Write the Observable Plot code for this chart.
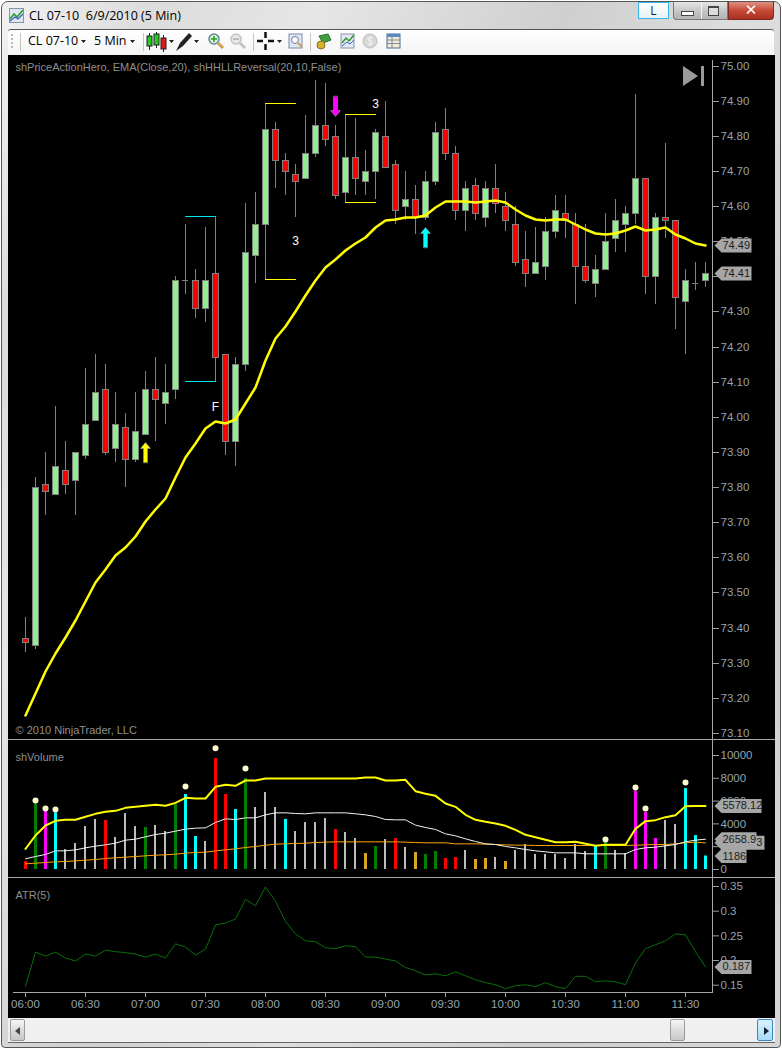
<!DOCTYPE html>
<html>
<head>
<meta charset="utf-8">
<script src="https://cdn.jsdelivr.net/npm/d3@7"></script>
<script src="https://cdn.jsdelivr.net/npm/@observablehq/plot@0.6"></script>
<style>
html,body{margin:0;padding:0;background:#fff;width:782px;height:1050px;overflow:hidden}
#win{position:absolute;left:1px;top:1px;width:780px;height:1047px;border:1px solid #555;border-radius:7px 7px 4px 4px;box-sizing:border-box;
 background:linear-gradient(115deg,#f2f2f2 0%,#dcdcdc 12%,#e6e6e6 25%,#cfcfcf 45%,#dedede 60%,#cdcdcd 80%,#d8d8d8 100%)}
.abs{position:absolute}
#title{left:29px;top:7px;font:12.5px "Open Sans",sans-serif;color:#000;white-space:pre}
#toolbar{left:8px;top:29px;width:766px;height:26px;background:linear-gradient(#ffffff,#f4f4f4);border-top:1px solid #555;box-sizing:border-box;border-radius:3px 3px 0 0}
.tb{position:absolute;top:32px;font:12.5px "Open Sans",sans-serif;color:#000;white-space:pre}
#black{left:8px;top:55px;width:767px;height:963px;background:#000}
.panel{position:absolute;left:8px;width:767px}
.panel svg{display:block}
.sep{position:absolute;left:8px;width:767px;height:1px;background:#a8a8a8}
#scroll{left:8px;top:1018px;width:767px;height:24px;background:#f0f0f0;border-bottom:1px solid #666;box-sizing:content-box}
.btn{position:absolute;box-sizing:border-box;border:1px solid #9a9a9a;border-radius:2px;background:linear-gradient(#f6f6f6,#dcdcdc 50%,#c8c8c8)}
</style>
</head>
<body>
<div id="win"></div>
<div class="abs" id="title">CL 07-10  6/9/2010 (5 Min)</div>
<svg class="abs" style="left:9px;top:8px" width="15" height="15"><rect x=".5" y=".5" width="14" height="14" fill="#dfe6f2" stroke="#8a93a8"/><path d="M1 11L5 6 8 9 14 2" fill="none" stroke="#2f9a2f" stroke-width="1.6"/><path d="M1 13L6 9 9 11 14 6" fill="none" stroke="#3a5fc0" stroke-width="1.2"/></svg>
<!-- window buttons -->
<div class="abs" style="left:638px;top:2px;width:31px;height:17px;border:1px solid #35b5e8;box-sizing:border-box;background:linear-gradient(#fff,#e9f2f8);font:12px 'Open Sans',sans-serif;color:#123;text-align:center;line-height:15px">L</div>
<div class="abs" style="left:673px;top:2px;width:55px;height:18px;border:1px solid #777;border-top:none;box-sizing:border-box;border-radius:0 0 0 4px;background:linear-gradient(#e6e6e6,#c4c4c4 55%,#b4b4b4)"></div>
<div class="abs" style="left:701px;top:2px;width:1px;height:17px;background:#f2f2f2"></div>
<div class="abs" style="left:681px;top:11px;width:11px;height:3px;border:1px solid #444;background:#fff;box-sizing:content-box"></div>
<div class="abs" style="left:708px;top:6px;width:9px;height:7px;border:1px solid #444;border-top-width:2px;background:#ddd"></div>
<div class="abs" style="left:728px;top:2px;width:46px;height:18px;border:1px solid #7a2a20;border-top:none;box-sizing:border-box;border-radius:0 0 4px 0;background:linear-gradient(#e09080,#c84a38 50%,#a83020);color:#fff;font:bold 15px 'DejaVu Sans',sans-serif;text-align:center;line-height:16px">✕</div>

<div class="abs" id="toolbar"></div>
<div class="tb" style="left:28px">CL 07-10</div>
<div class="tb" style="left:94px">5 Min</div>
<svg class="abs" style="left:8px;top:30px" width="400" height="25">
 <g fill="#b8b8b8"><rect x="3" y="4" width="2" height="2"/><rect x="3" y="8" width="2" height="2"/><rect x="3" y="12" width="2" height="2"/><rect x="3" y="16" width="2" height="2"/></g>
 <g stroke="#c4c4c4"><path d="M12.5 3V21M135.5 3V21M245.5 3V21M302.5 3V21"/></g>
 <g fill="#222"><path d="M73 10h5l-2.5 3zM122 10h5l-2.5 3zM161 10h5l-2.5 3zM186 10h5l-2.5 3zM269 10h5l-2.5 3z"/></g>
 <g stroke="#222"><path d="M141.5 3V20M148.5 2V18M155.5 5V22"/></g>
 <rect x="139" y="6" width="5" height="10" fill="#2bc62b" stroke="#222"/><rect x="146" y="4" width="5" height="11" fill="#2bc62b" stroke="#222"/><rect x="153" y="8" width="5" height="11" fill="#e01818" stroke="#222"/>
 <path d="M168 21L172 13 181 3 184 6 175 16z" fill="#222"/>
 <g fill="none"><circle cx="206" cy="9" r="5" fill="#dff0df" stroke="#5a8a8a" stroke-width="1.5"/><path d="M210 13l5 5" stroke="#d89a50" stroke-width="3"/><path d="M203 9h6M206 6v6" stroke="#20a020" stroke-width="1.5"/></g>
 <g fill="none" stroke="#c2c2c2"><circle cx="228" cy="9" r="5" fill="#e8e8e8" stroke-width="1.5"/><path d="M232 13l5 5" stroke-width="3"/><path d="M225 9h6" stroke="#aaa" stroke-width="1.5"/></g>
 <path d="M249 11h6M260 11h6M257.5 2v6M257.5 14v6" stroke="#111" stroke-width="2.5"/>
 <rect x="281" y="4" width="13" height="14" fill="#dfe8f4" stroke="#7a8aa8"/><circle cx="287" cy="10" r="3.5" fill="#fff" stroke="#6a7a98"/><path d="M290 13l4 4" stroke="#d89a50" stroke-width="2"/>
 <path d="M311 6l9-2 3 6-8 3z" fill="#3fa03f" stroke="#2a6a2a"/><circle cx="313" cy="15" r="4" fill="#d8b030" stroke="#8a7020"/>
 <rect x="333" y="4" width="13" height="14" fill="#e4eaf4" stroke="#8a93a8"/><path d="M334 13l4-5 3 3 5-6" fill="none" stroke="#2f9a2f" stroke-width="1.5"/><path d="M334 16l5-4 3 2 4-4" fill="none" stroke="#3a5fc0"/>
 <circle cx="362" cy="11" r="7" fill="#d6d6d6" stroke="#bcbcbc"/><text x="362" y="15" font-size="10" text-anchor="middle" fill="#f4f4f4" font-family="Liberation Sans">$</text>
 <rect x="379" y="4" width="13" height="14" fill="#f2ead0" stroke="#4a6a9a"/><rect x="379" y="4" width="13" height="3" fill="#5a8ac0"/><path d="M379 10h13M379 13.5h13M384 7v11" stroke="#6a7a98" stroke-width=".8"/>
</svg>
<div class="abs" id="black"></div>
<div class="panel" id="p1" style="top:55px"></div>
<div class="sep" style="top:739px"></div>
<div class="panel" id="p2" style="top:740px"></div>
<div class="sep" style="top:877px"></div>
<div class="panel" id="p3" style="top:878px"></div>
<svg class="abs" style="left:683px;top:66px" width="22" height="21"><path d="M0 0L15 10 0 20z" fill="#9a9a9a"/><rect x="18" y="0" width="3" height="20" fill="#9a9a9a"/></svg>
<div class="abs" id="scroll"></div>
<div class="btn" style="left:10px;top:1019px;width:15px;height:22px"><div style="position:absolute;left:4px;top:7px;border:4px solid transparent;border-right:5px solid #444;border-left:none"></div></div>
<div class="btn" style="left:670px;top:1019px;width:15px;height:22px"></div>
<div class="btn" style="left:757px;top:1019px;width:16px;height:22px;border-color:#3a88c0;background:linear-gradient(#d8f0fc,#a8dcf8)"><div style="position:absolute;left:6px;top:7px;border:4px solid transparent;border-left:5px solid #123;border-right:none"></div></div>

<script>
// ---- Time axis ----
const barIndex = d3.range(69);
const timeTickIndex = [0, 6, 12, 18, 24, 30, 36, 42, 48, 54, 60, 66];
const timeTickLabels = ["06:00","06:30","07:00","07:30","08:00","08:30","09:00","09:30","10:00","10:30","11:00","11:30"];

// ---- Price panel ----
const opens = [73.37,73.35,73.81,73.78,73.85,73.82,73.89,73.99,74.08,73.91,73.97,73.88,73.95,74.08,74.04,74.08,74.39,74.39,74.31,74.41,74.18,73.93,74.15,74.46,74.55,74.82,74.73,74.69,74.68,74.75,74.83,74.80,74.64,74.74,74.67,74.70,74.80,74.72,74.60,74.62,74.57,74.67,74.82,74.75,74.59,74.66,74.57,74.65,74.60,74.55,74.45,74.41,74.43,74.53,74.58,74.55,74.43,74.38,74.42,74.51,74.55,74.58,74.68,74.40,74.57,74.56,74.33,74.38,74.39];
const highs = [73.43,73.83,73.90,74.03,73.93,73.90,74.14,74.18,74.15,74.07,74.01,74.07,74.13,74.17,74.15,74.40,74.55,74.42,74.54,74.57,74.18,74.17,74.61,74.64,74.89,74.84,74.75,74.72,74.86,74.96,74.95,74.83,74.86,74.85,74.76,74.82,74.90,74.73,74.70,74.66,74.70,74.84,74.88,74.77,74.67,74.68,74.67,74.72,74.64,74.60,74.53,74.54,74.57,74.63,74.63,74.58,74.55,74.46,74.58,74.62,74.60,74.92,74.68,74.58,74.78,74.56,74.42,74.44,74.44];
const lows = [73.33,73.34,73.72,73.78,73.78,73.72,73.88,73.99,73.89,73.87,73.80,73.87,73.95,73.93,73.98,74.05,74.35,74.28,74.27,74.10,73.89,73.86,74.13,74.38,74.39,74.65,74.63,74.57,74.68,74.74,74.77,74.62,74.61,74.63,74.63,74.62,74.71,74.55,74.56,74.52,74.56,74.66,74.73,74.56,74.53,74.56,74.54,74.58,74.53,74.43,74.37,74.41,74.39,74.51,74.51,74.32,74.38,74.34,74.42,74.47,74.47,74.55,74.35,74.32,74.51,74.25,74.18,74.36,74.37];
const closes = [73.36,73.80,73.79,73.86,73.81,73.90,73.98,74.07,73.90,73.98,73.88,73.96,74.08,74.05,74.07,74.39,74.39,74.31,74.39,74.17,73.93,74.15,74.47,74.55,74.82,74.73,74.70,74.67,74.75,74.83,74.79,74.63,74.74,74.68,74.70,74.81,74.71,74.59,74.62,74.57,74.67,74.81,74.75,74.59,74.65,74.58,74.65,74.61,74.56,74.44,74.41,74.44,74.53,74.59,74.56,74.43,74.39,74.42,74.50,74.56,74.58,74.68,74.40,74.57,74.56,74.34,74.39,74.38,74.41];
const ema = [73.151,73.214,73.276,73.328,73.373,73.422,73.476,73.530,73.567,73.607,73.629,73.661,73.703,73.738,73.769,73.829,73.886,73.925,73.968,73.988,73.982,73.994,74.039,74.085,74.162,74.224,74.258,74.301,74.347,74.389,74.426,74.449,74.475,74.495,74.512,74.540,74.560,74.563,74.569,74.569,74.574,74.597,74.614,74.614,74.614,74.612,74.615,74.617,74.611,74.592,74.574,74.564,74.561,74.564,74.562,74.549,74.535,74.524,74.521,74.524,74.532,74.544,74.532,74.535,74.539,74.520,74.509,74.495,74.488];
const priceTicks = [75.0,74.9,74.8,74.7,74.6,74.5,74.4,74.3,74.2,74.1,74.0,73.9,73.8,73.7,73.6,73.5,73.4,73.3,73.2,73.1];
const priceBrackets = [
  {kind:"teal", from:16, to:19, price:74.572},
  {kind:"teal", from:16, to:19, price:74.101},
  {kind:"yellow", from:24, to:27, price:74.892},
  {kind:"yellow", from:24, to:27, price:74.391},
  {kind:"yellow", from:32, to:35, price:74.861},
  {kind:"yellow", from:32, to:35, price:74.611}
];
const priceNotes = [{i:27, price:74.50, label:"3"}, {i:35, price:74.89, label:"3"}, {i:19, price:74.029, label:"F"}];
const upArrows = [{i:12, tail:73.872, kind:"yellow"}, {i:40, tail:74.484, kind:"cyan"}];
const downArrows = [{i:31, tail:74.913, kind:"magenta"}];

// ---- Volume panel ----
const volumes = [700,5760,5150,4970,1750,2280,3770,4390,4300,2810,4910,3770,3680,3860,3330,5700,6580,2890,2460,9740,6580,5260,7980,5440,6750,5440,4390,3330,4120,4120,4470,3510,3250,2720,1400,2020,2630,2720,1930,1490,1320,1580,965,1050,1670,880,965,1050,700,1670,2190,1320,1320,1320,965,2190,1580,2020,2370,1670,1400,6870,5000,2720,4300,3950,7100,2980,1186];
const volumeKinds = ["red","green","magenta","cyan","gray","gray","gray","gray","red","gray","gray","gray","green","gray","gray","green","cyan","cyan","gray","red","red","cyan","green","gray","gray","gray","cyan","gray","gray","gray","gray","red","gray","gray","gold","green","gray","red","gray","gold","green","green","red","red","gray","gold","gold","gray","gold","gray","gray","gray","gray","gray","gray","gray","gray","cyan","green","gray","gray","magenta","magenta","magenta","gray","gray","cyan","cyan","cyan"];
const volumeUpper = [1813,2982,3860,4269,4357,4357,4620,4883,5059,5146,5409,5497,5585,5673,5585,5848,6287,6228,6228,7252,7427,7339,7807,7807,7983,7983,7983,7983,7983,7983,7983,7983,7983,7983,8070,8070,7807,7807,7866,6871,6637,6462,5790,5497,4795,4357,4181,4035,3830,3480,3041,2836,2602,2398,2398,2427,2251,2076,2164,2164,2164,3567,4240,4328,4591,4766,5556,5578,5578];
const volumeMid = [936,1140,1316,1637,1637,1725,1901,2047,2164,2310,2573,2661,2866,3070,3187,3363,3538,3626,3655,4123,4444,4386,4532,4532,4795,4971,4971,4912,4883,4971,4971,4971,4971,4883,4795,4649,4386,4357,4357,3889,3684,3509,3129,2953,2690,2456,2251,2193,2018,1901,1754,1637,1550,1462,1462,1462,1374,1374,1374,1374,1374,1754,1901,1959,2076,2193,2427,2573,2659];
const volumeLong = [497,556,614,673,702,760,819,877,965,1023,1082,1140,1199,1257,1287,1345,1433,1491,1520,1637,1725,1813,1930,2018,2135,2222,2251,2281,2310,2368,2398,2427,2427,2427,2427,2427,2427,2427,2398,2368,2339,2339,2339,2251,2251,2251,2222,2193,2164,2135,2135,2105,2105,2105,2105,2105,2105,2105,2105,2105,2105,2135,2164,2193,2193,2251,2339,2398,2333];
const volumeSpikes = [{i:1,v:6050},{i:2,v:5350},{i:3,v:5260},{i:16,v:7280},{i:19,v:10640},{i:22,v:8860},{i:58,v:2630},{i:61,v:7190},{i:62,v:5350},{i:66,v:7630}];
const volumeTicks = [0,2000,4000,6000,8000,10000];

// ---- ATR panel ----
const atr = [.148,.217,.209,.217,.205,.199,.213,.209,.221,.218,.216,.213,.207,.213,.205,.234,.227,.211,.223,.272,.276,.284,.324,.311,.349,.320,.279,.254,.240,.238,.226,.224,.230,.228,.207,.207,.203,.199,.186,.179,.171,.173,.169,.177,.169,.161,.155,.151,.143,.149,.151,.147,.155,.147,.143,.168,.168,.157,.159,.157,.151,.195,.224,.232,.240,.254,.252,.218,.187];
const atrTicks = [.15,.2,.25,.3,.35];

// ---- Shared style ----
const FONT = '"Liberation Sans", Arial, sans-serif';
const TICK = "#97a3ad";
const LABEL = "#8f8f8f";
const W = 767, MR = 63, ML = 5;
const PALETTE = {red:"#ff0000",green:"#008000",magenta:"#ff00ff",cyan:"#00ffff",teal:"#00e8f0",gray:"#bcbcbc",gold:"#daa520",yellow:"#ffff00"};
const xScale = {type:"band", domain:barIndex, range:[12,702], paddingInner:0.4, paddingOuter:0.2, round:false, axis:null};
const base = {width:W, marginLeft:ML, marginRight:MR, style:{background:"transparent",color:TICK,fontFamily:FONT,fontSize:"11px",overflow:"visible"}};

const tagShape = {draw(c,l){c.moveTo(0,0);c.lineTo(7,-7);c.lineTo(l,-7);c.lineTo(l,7);c.lineTo(7,7);c.closePath();}};
const arrowShape = {draw(c,l){c.moveTo(-2,0);c.lineTo(-2,-l+6);c.lineTo(-5,-l+6);c.lineTo(0,-l);c.lineTo(5,-l+6);c.lineTo(2,-l+6);c.lineTo(2,0);c.closePath();}};

function tag(value, label, len){
  return [
    Plot.vector([value],{y:d=>d,frameAnchor:"right",anchor:"start",rotate:0,length:len,shape:tagShape,fill:"#a6a6a6",stroke:"none",dx:2}),
    Plot.text([value],{y:d=>d,text:()=>label,frameAnchor:"right",textAnchor:"start",dx:10,fill:"#1c1c1c",fontSize:11})
  ];
}
function title(label, dy){
  return Plot.text([label],{text:d=>d,frameAnchor:"top-left",lineAnchor:"middle",textAnchor:"start",dx:2,dy,fill:LABEL,fontSize:11});
}
function yAxis(ticks, fmt){
  return Plot.axisY({anchor:"right",ticks,tickFormat:fmt,tickSize:6,tickPadding:2,fill:TICK,stroke:"#9c9c9c",fontSize:11.5,textAnchor:"start"});
}

const candles = barIndex.map(i=>({i,o:opens[i],h:highs[i],l:lows[i],c:closes[i],e:ema[i],dir:closes[i]>opens[i]?"up":"down"}));

// ---- Price ----
document.getElementById("p1").append(Plot.plot({...base,height:684,marginTop:5,marginBottom:0,
  x:xScale,
  y:{domain:[73.1,75],range:[678,10.5],round:true,axis:null},
  color:{type:"ordinal",domain:["up","down"],range:["#90ee90","#ff0000"]},
  marks:[
    Plot.frame({anchor:"right",stroke:"#a8a8a8"}),
    yAxis(priceTicks,d=>d.toFixed(2)),
    Plot.ruleX(candles,{x:"i",y1:"l",y2:"h",stroke:"#808080"}),
    Plot.barY(candles.filter(d=>d.o!==d.c),{x:"i",y1:"o",y2:"c",fill:"dir",stroke:"#808080",strokeWidth:1,dx:.5,dy:.5}),
    Plot.tickY(candles.filter(d=>d.o===d.c),{x:"i",y:"c",stroke:"#808080"}),
    ...priceBrackets.map(b=>Plot.line([[b.from,b.price],[b.to,b.price]],{x:d=>d[0],y:d=>d[1],stroke:PALETTE[b.kind],strokeWidth:1})),
    Plot.line(candles,{x:"i",y:"e",stroke:PALETTE.yellow,strokeWidth:2.5,curve:"linear"}),
    Plot.text(priceNotes,{x:"i",y:"price",text:"label",fill:"#fff",fontSize:12}),
    ...upArrows.map(a=>Plot.vector([a],{x:"i",y:"tail",anchor:"start",rotate:0,length:20,shape:arrowShape,fill:PALETTE[a.kind],stroke:"#9a9a9a",strokeWidth:.5})),
    ...downArrows.map(a=>Plot.vector([a],{x:"i",y:"tail",anchor:"start",rotate:180,length:20,shape:arrowShape,fill:PALETTE[a.kind],stroke:"#9a9a9a",strokeWidth:.5})),
    title("shPriceActionHero, EMA(Close,20), shHHLLReversal(20,10,False)",7),
    Plot.text(["© 2010 NinjaTrader, LLC"],{text:d=>d,frameAnchor:"bottom-left",lineAnchor:"middle",textAnchor:"start",dx:2,dy:-9,fill:LABEL,fontSize:11}),
    ...tag(74.488,"74.49",37),
    ...tag(74.41,"74.41",37)
  ]
}));

// ---- Volume ----
const vol = barIndex.map(i=>({i,v:volumes[i],kind:volumeKinds[i],u:volumeUpper[i],m:volumeMid[i],lg:volumeLong[i]}));
document.getElementById("p2").append(Plot.plot({...base,height:137,marginTop:0,marginBottom:0,
  x:xScale,
  y:{domain:[0,10000],range:[129,15],axis:null},
  marks:[
    Plot.frame({anchor:"right",stroke:"#a8a8a8"}),
    yAxis(volumeTicks,d=>String(d)),
    Plot.barY(vol.filter(d=>d.kind!=="gray"),{x:"i",y1:0,y2:"v",fill:d=>PALETTE[d.kind],insetLeft:1.5,insetRight:1.5,dx:.5}),
    Plot.barY(vol.filter(d=>d.kind==="gray"),{x:"i",y1:0,y2:"v",fill:PALETTE.gray,insetLeft:2,insetRight:2}),
    Plot.line(vol,{x:"i",y:"lg",stroke:"#ffa500",strokeWidth:1}),
    Plot.line(vol,{x:"i",y:"m",stroke:"#f4f4f4",strokeWidth:1}),
    Plot.line(vol,{x:"i",y:"u",stroke:PALETTE.yellow,strokeWidth:2}),
    Plot.dot(volumeSpikes,{x:"i",y:"v",r:3,fill:"#fffacd",stroke:"none"}),
    title("shVolume",17),
    ...tag(2339,"2339.63",50),
    ...tag(5578.12,"5578.12",47),
    ...tag(2658.9,"2658.9",42),
    ...tag(1186,"1186",32)
  ]
}));

// ---- ATR ----
document.getElementById("p3").append(Plot.plot({...base,height:140,marginTop:0,marginBottom:26,
  x:xScale,
  y:{domain:[.15,.35],range:[106.7,8],axis:null},
  marks:[
    Plot.frame({anchor:"right",stroke:"#a8a8a8"}),
    Plot.frame({anchor:"bottom",stroke:"#a8a8a8"}),
    yAxis(atrTicks,d=>String(d)),
    Plot.axisX({anchor:"bottom",ticks:timeTickIndex,tickFormat:d=>timeTickLabels[timeTickIndex.indexOf(d)],tickSize:5,tickPadding:2,fill:TICK,stroke:"#9c9c9c",fontSize:11.5}),
    Plot.line(barIndex,{x:d=>d,y:d=>atr[d],stroke:"#0a6e0a",strokeWidth:1}),
    title("ATR(5)",17),
    ...tag(.187,"0.187",37)
  ]
}));
</script>
</body>
</html>
